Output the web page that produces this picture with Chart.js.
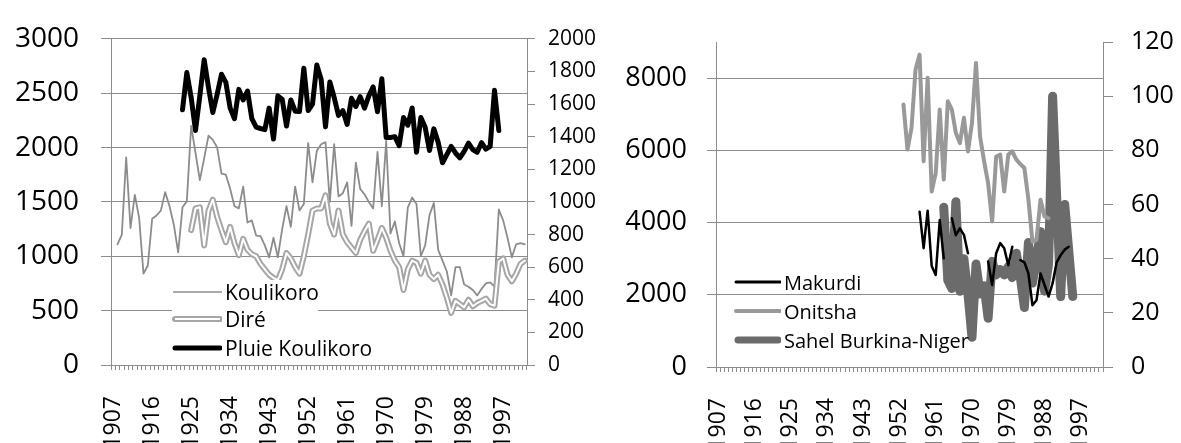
<!DOCTYPE html>
<html>
<head>
<meta charset="utf-8">
<script src="https://cdn.jsdelivr.net/npm/chart.js@4.4.1/dist/chart.umd.min.js"></script>
<style>
  html, body { margin: 0; padding: 0; background: #fff; }
  #page { position: relative; width: 1181px; height: 443px; overflow: hidden; font-family: 'Open Sans', sans-serif; color: #000; }
  canvas { position: absolute; top: 0; }
  .legend { position: absolute; }
  .row { position: absolute; left: 0; height: 26px; white-space: nowrap; display: flex; align-items: center; }
  .row svg { display: block; }
  .row span { margin-left: 3px; }
</style>
</head>
<body>
<div id="page">
  <canvas id="left" width="605" height="443" style="left:0"></canvas>
  <canvas id="right" width="576" height="443" style="left:605px"></canvas>

  <div class="legend" style="left:172px; top:280px; width:146px; height:80px; background:#fff; font-size:21px;">
    <div class="row" style="top:-1px"><svg width="50" height="10"><line x1="1" y1="5" x2="50" y2="5" stroke="#8c8c8c" stroke-width="1.6"/></svg><span>Koulikoro</span></div>
    <div class="row" style="top:26px"><svg width="50" height="10"><line x1="3" y1="5" x2="48" y2="5" stroke="#a6a6a6" stroke-width="6" stroke-linecap="round"/><line x1="3" y1="5" x2="48" y2="5" stroke="#fff" stroke-width="2"/></svg><span>Diré</span></div>
    <div class="row" style="top:55px"><svg width="50" height="10"><line x1="3" y1="5" x2="48" y2="5" stroke="#000" stroke-width="5" stroke-linecap="round"/></svg><span>Pluie Koulikoro</span></div>
  </div>

  <div class="legend" style="left:734px; top:269px; font-size:20px;">
    <div class="row" style="top:0"><svg width="47" height="10"><line x1="2" y1="5" x2="46" y2="5" stroke="#000" stroke-width="3" stroke-linecap="round"/></svg><span>Makurdi</span></div>
    <div class="row" style="top:29px"><svg width="47" height="10"><line x1="2" y1="5" x2="46" y2="5" stroke="#999" stroke-width="4" stroke-linecap="round"/></svg><span>Onitsha</span></div>
    <div class="row" style="top:58px"><svg width="47" height="10"><line x1="4" y1="5" x2="44" y2="5" stroke="#6b6b6b" stroke-width="7" stroke-linecap="round"/></svg><span>Sahel Burkina-Niger</span></div>
  </div>
</div>

<script>
// années (catégories)
const years = [1907,1908,1909,1910,1911,1912,1913,1914,1915,1916,1917,1918,1919,1920,1921,1922,1923,1924,1925,1926,
  1927,1928,1929,1930,1931,1932,1933,1934,1935,1936,1937,1938,1939,1940,1941,1942,1943,1944,1945,1946,
  1947,1948,1949,1950,1951,1952,1953,1954,1955,1956,1957,1958,1959,1960,1961,1962,1963,1964,1965,1966,
  1967,1968,1969,1970,1971,1972,1973,1974,1975,1976,1977,1978,1979,1980,1981,1982,1983,1984,1985,1986,
  1987,1988,1989,1990,1991,1992,1993,1994,1995,1996,1997,1998,1999,2000,2001,2002];

// graphe 1 : débits (axe gauche) et pluie (axe droit)
const koulikoro = [null,1110,1200,1910,1260,1565,1350,840,915,1345,1375,1420,1590,1460,1290,1035,1450,1505,2200,1950,
  1700,1900,2110,2070,2000,1760,1750,1620,1460,1440,1640,1310,1330,1190,1185,1100,990,1170,990,1250,
  1460,1270,1640,1420,1480,2040,1680,1970,2030,2050,1500,2030,1550,1580,1680,1280,1860,1620,1570,1500,
  1440,1960,1460,2060,1210,1320,1120,1000,1450,1540,1480,1000,1100,1380,1490,1060,960,860,640,900,
  900,740,720,690,640,700,750,760,720,1430,1330,1170,990,1110,1120,1110];

const dire = [null,null,null,null,null,null,null,null,null,null,null,null,null,null,null,null,null,null,1240,1440,
  1450,1100,1420,1520,1360,1240,1130,1270,1120,1010,1160,1060,1020,1000,930,880,830,800,780,880,
  1030,980,900,840,1000,1200,1420,1440,1440,1560,1300,1200,1420,1200,1130,1080,1030,1150,1230,1300,
  1050,1150,1260,1170,1050,960,900,690,880,960,940,840,960,830,790,830,740,620,480,590,
  560,530,600,540,570,590,610,560,545,950,980,830,770,840,930,960];

const pluieKoulikoro = [null,null,null,null,null,null,null,null,null,null,null,null,null,null,null,null,1565,1793,1640,1438,
  1650,1872,1700,1548,1660,1783,1733,1575,1510,1690,1625,1680,1510,1458,1450,1443,1575,1385,1650,1630,
  1465,1625,1556,1555,1820,1560,1600,1840,1750,1460,1735,1640,1530,1560,1475,1635,1585,1645,1575,1650,
  1705,1553,1755,1395,1395,1400,1345,1517,1470,1576,1305,1517,1458,1315,1448,1365,1240,1290,1340,1300,
  1270,1310,1360,1320,1304,1363,1324,1340,1685,1438,null,null,null,null,null,null];

// graphe 2 : Makurdi, Onitsha (axe gauche), Sahel (axe droit)
const makurdi = [null,null,null,null,null,null,null,null,null,null,null,null,null,null,null,null,null,null,null,null,
  null,null,null,null,null,null,null,null,null,null,null,null,null,null,null,null,null,null,null,null,
  null,null,null,null,null,null,null,null,null,null,4300,3290,4330,2800,2550,4070,3010,null,4120,3650,
  3840,3660,3150,null,null,null,null,2920,2270,3150,3430,3290,2820,3330,null,2960,2900,2590,1710,1850,
  2590,2270,1950,2320,2900,3100,3250,3330,null,null,null,null,null,null,null,null];

const onitsha = [null,null,null,null,null,null,null,null,null,null,null,null,null,null,null,null,null,null,null,null,
  null,null,null,null,null,null,null,null,null,null,null,null,null,null,null,null,null,null,null,null,
  null,null,null,null,null,null,7270,6020,6620,8240,8650,5700,8010,4860,5370,7130,5190,7360,7130,6480,
  6200,6900,5970,6760,8420,6390,5700,5090,4030,5830,5880,4860,5880,5970,5740,5620,5510,4630,3470,3520,
  4630,4170,4120,null,null,null,null,null,null,null,null,null,null,null,null,null];

const sahel = [null,null,null,null,null,null,null,null,null,null,null,null,null,null,null,null,null,null,null,null,
  null,null,null,null,null,null,null,null,null,null,null,null,null,null,null,null,null,null,null,null,
  null,null,null,null,null,null,null,null,null,null,null,null,null,null,null,null,59,32,29,61,
  28,40,27,11,38,27,30,18,39,34,36,34,37,33,42,33,22,46,31,40,
  50,28,38,100,63,26,60,43,26,null,null,null,null,null,null,null];

// graduations
const leftTicks1 = [0, 500, 1000, 1500, 2000, 2500, 3000];
const rightTicks1 = [0, 200, 400, 600, 800, 1000, 1200, 1400, 1600, 1800, 2000];
const leftTicks2 = [0, 2000, 4000, 6000, 8000];
const rightTicks2 = [0, 20, 40, 60, 80, 100, 120];

const gridColor = '#8c8c8c';
const font = 'Open Sans';

function xScale(height) {
  return {
    type: 'category',
    offset: true,
    grid: { offset: true, drawOnChartArea: false, tickLength: 5, color: gridColor },
    border: { color: gridColor },
    ticks: {
      autoSkip: false, maxRotation: 90, minRotation: 90, padding: 26,
      color: '#000', font: { family: font, size: 23 },
      callback: (v, i) => (i % 9 === 0 ? String(years[i]) : '')
    },
    afterFit: s => { s.height = height; }
  };
}

function yScale(pos, ticks, size, pad, tickLen, width, onArea, max) {
  return {
    position: pos,
    min: 0,
    max: max,
    afterBuildTicks: s => { s.ticks = ticks.map(v => ({ value: v })); },
    grid: { color: gridColor, tickLength: tickLen, drawOnChartArea: onArea },
    border: { color: gridColor },
    ticks: { color: '#000', padding: pad, font: { family: font, size: size }, callback: v => String(v) },
    afterFit: s => { s.width = width; }
  };
}

const common = {
  responsive: false,
  animation: false,
  events: [],
  plugins: { legend: { display: false }, tooltip: { enabled: false } },
  elements: {
    point: { radius: 0 },
    line: { tension: 0, borderJoinStyle: 'round', borderCapStyle: 'round' }
  }
};

new Chart(document.getElementById('left').getContext('2d'), {
  type: 'line',
  data: {
    labels: years,
    datasets: [
      { label: 'Pluie Koulikoro', data: pluieKoulikoro, yAxisID: 'y2', borderColor: '#000', borderWidth: 5 },
      { label: '', data: dire, yAxisID: 'y', borderColor: '#fff', borderWidth: 2 },
      { label: 'Diré', data: dire, yAxisID: 'y', borderColor: '#a6a6a6', borderWidth: 6 },
      { label: 'Koulikoro', data: koulikoro, yAxisID: 'y', borderColor: '#8c8c8c', borderWidth: 1.8 }
    ]
  },
  options: {
    ...common,
    layout: { padding: { top: 25, left: 0, right: 0, bottom: 0 } },
    scales: {
      x: xScale(78),
      y: yScale('left', leftTicks1, 28, 22, 10, 111, true, 3000),
      y2: yScale('right', rightTicks1, 21, 13, 8, 78, false, 2000)
    }
  }
});

new Chart(document.getElementById('right').getContext('2d'), {
  type: 'line',
  data: {
    labels: years,
    datasets: [
      { label: 'Makurdi', data: makurdi, yAxisID: 'y', borderColor: '#000', borderWidth: 2.5 },
      { label: 'Onitsha', data: onitsha, yAxisID: 'y', borderColor: '#999', borderWidth: 4 },
      { label: 'Sahel Burkina-Niger', data: sahel, yAxisID: 'y2', borderColor: '#6b6b6b', borderWidth: 9 }
    ]
  },
  options: {
    ...common,
    layout: { padding: { top: 42, left: 0, right: 0, bottom: 0 } },
    scales: {
      x: xScale(76),
      y: yScale('left', leftTicks2, 27, 20, 9, 111, true, 9000),
      y2: yScale('right', rightTicks2, 25, 18, 10, 78, false, 120)
    }
  }
});
</script>
</body>
</html>
